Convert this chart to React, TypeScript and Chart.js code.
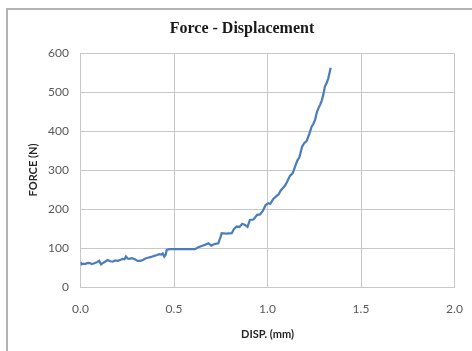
import React, { useEffect, useRef } from "react";
import { Chart, registerables } from "chart.js";

Chart.register(...registerables);

const TITLE = "Force - Displacement";
const X_TITLE = "DISP. (mm)";
const Y_TITLE = "FORCE (N)";

const disp = [
  0.000, 0.005, 0.015, 0.025, 0.035, 0.047, 0.060, 0.074, 0.090, 0.100,
  0.110, 0.125, 0.145, 0.160, 0.172, 0.185, 0.200, 0.215, 0.226, 0.235,
  0.243, 0.252, 0.260, 0.275, 0.288, 0.306, 0.320, 0.333, 0.347, 0.360,
  0.378, 0.395, 0.410, 0.421, 0.432, 0.440, 0.448, 0.455, 0.461, 0.475,
  0.550, 0.612, 0.630, 0.648, 0.665, 0.684, 0.700, 0.715, 0.737, 0.750,
  0.755, 0.780, 0.809, 0.820, 0.835, 0.850, 0.865, 0.880, 0.893, 0.906,
  0.925, 0.945, 0.960, 0.975, 0.990, 1.004, 1.015, 1.030, 1.045, 1.060,
  1.070, 1.085, 1.094, 1.105, 1.120, 1.135, 1.147, 1.160, 1.170, 1.185,
  1.195, 1.210, 1.223, 1.236, 1.245, 1.254, 1.265, 1.272, 1.281, 1.290,
  1.298, 1.307, 1.318, 1.325, 1.338,
];

const force = [
  64, 58, 60, 59, 61, 62, 59, 61, 64, 67,
  58, 63, 69, 66, 65, 68, 67, 70, 72, 71,
  78, 73, 72, 74, 72, 67, 67, 69, 73, 75,
  77, 80, 82, 84, 83, 86, 78, 82, 95, 97,
  97, 97, 102, 105, 108, 112, 106, 110, 112, 130,
  138, 137, 138, 148, 155, 154, 162, 159, 154, 172,
  173, 185, 186, 195, 210, 215, 213, 225, 232, 238,
  247, 255, 260, 270, 285, 292, 308, 325, 332, 360,
  368, 375, 392, 411, 418, 428, 450, 458, 467, 478,
  492, 514, 525, 535, 562,
];

const X_MIN = 0;
const X_MAX = 2;
const X_STEP = 0.5;
const Y_MIN = 0;
const Y_MAX = 600;
const Y_STEP = 100;

const SANS = "Lato, 'Open Sans', sans-serif";
const GRID = "#c8c8c8";
const TEXT = "#595959";

export default function App() {
  const ref = useRef<HTMLCanvasElement | null>(null);

  useEffect(() => {
    document.body.style.margin = "0";
    const canvas = ref.current;
    if (!canvas) return;

    const framePlugin = {
      id: "frame",
      beforeDraw(chart: any) {
        const ctx = chart.ctx;
        ctx.save();
        ctx.fillStyle = "#ffffff";
        ctx.fillRect(0, 0, chart.width, chart.height);
        ctx.strokeStyle = "#b4b4b4";
        ctx.lineWidth = 2;
        ctx.beginPath();
        ctx.moveTo(7, chart.height);
        ctx.lineTo(7, 9);
        ctx.lineTo(chart.width, 9);
        ctx.stroke();
        ctx.restore();
      },
      afterDraw(chart: any) {
        const ctx = chart.ctx;
        ctx.save();
        ctx.fillStyle = "#1a1a1a";
        ctx.font = "bold 16px 'Liberation Serif', serif";
        ctx.textAlign = "center";
        ctx.textBaseline = "middle";
        ctx.fillText(TITLE, 242, 29);
        ctx.restore();
      },
    };

    const chart = new Chart(canvas, {
      type: "line",
      data: {
        datasets: [
          {
            data: disp.map((d, i) => ({ x: d, y: force[i] })),
            borderColor: "#4a7ebb",
            borderWidth: 2.25,
            pointRadius: 0,
            tension: 0,
            fill: false,
          },
        ],
      },
      options: {
        animation: false,
        responsive: false,
        events: [],
        layout: { padding: { top: 53, right: 17.5, left: 0, bottom: 0 } },
        plugins: {
          legend: { display: false },
          tooltip: { enabled: false },
          title: { display: false },
        },
        scales: {
          x: {
            type: "linear",
            min: X_MIN,
            max: X_MAX,
            afterFit: (s: any) => {
              s.height = 64;
              s.paddingLeft = 0;
              s.paddingRight = 0;
            },
            ticks: {
              stepSize: X_STEP,
              padding: 14.5,
              color: TEXT,
              font: { family: SANS, size: 12 },
              callback: (v: any) => Number(v).toFixed(1),
            },
            grid: { color: GRID, lineWidth: 1, drawTicks: false },
            border: { color: GRID },
            title: {
              display: true,
              text: X_TITLE,
              color: "#262626",
              font: { family: SANS, size: 11, weight: "bold" },
              padding: { top: 0, bottom: 10 },
            },
          },
          y: {
            min: Y_MIN,
            max: Y_MAX,
            afterFit: (s: any) => {
              s.width = 80.5;
              s.paddingTop = 0;
              s.paddingBottom = 0;
            },
            ticks: {
              stepSize: Y_STEP,
              padding: 11.5,
              color: TEXT,
              font: { family: SANS, size: 12 },
            },
            grid: { color: GRID, lineWidth: 1, drawTicks: false },
            border: { color: GRID },
            title: {
              display: true,
              text: Y_TITLE,
              color: "#262626",
              font: { family: SANS, size: 11, weight: "bold" },
              padding: { top: 26.4, bottom: 0 },
            },
          },
        },
      },
      plugins: [framePlugin],
    } as any);

    return () => chart.destroy();
  }, []);

  return (
    <div style={{ position: "fixed", left: 0, top: 0, width: 472, height: 351 }}>
      <canvas ref={ref} width={472} height={351} style={{ display: "block" }} />
    </div>
  );
}
